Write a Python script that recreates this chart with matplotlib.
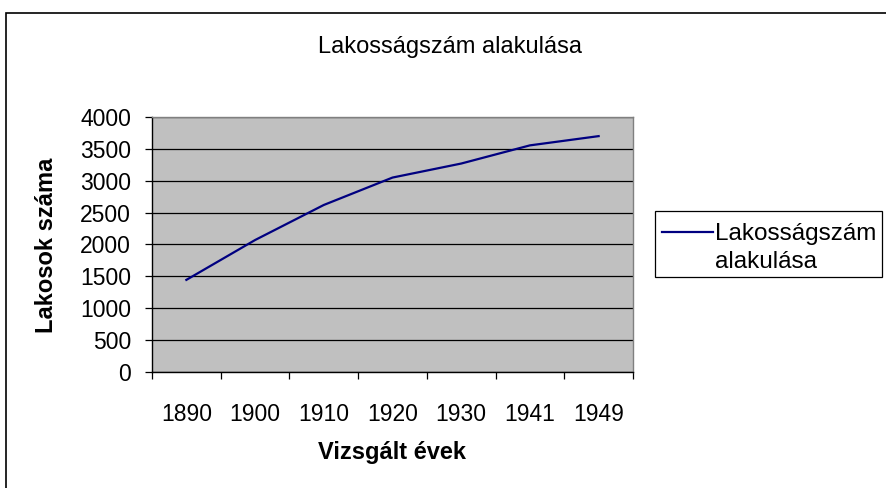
import matplotlib
matplotlib.use("Agg")
import matplotlib.pyplot as plt
from matplotlib.patches import Rectangle
from matplotlib.lines import Line2D

plt.rcParams['font.family'] = ['Liberation Sans', 'DejaVu Sans']

years = ['1890', '1900', '1910', '1920', '1930', '1941', '1949']
population = [1445, 2070, 2620, 3050, 3270, 3555, 3700]
series_name = 'Lakosságszám\nalakulása'

W, H = 887, 488
fig = plt.figure(figsize=(W / 100, H / 100), dpi=100)

# outer chart frame (cut off right and bottom like the original)
fig.patches.append(Rectangle((6 / W, -0.1), 1.1, (H - 13) / H + 0.1,
                             transform=fig.transFigure, fill=False,
                             edgecolor='black', linewidth=1.2))

ax = fig.add_axes([152 / W, (H - 372) / H, (633 - 152) / W, (372 - 117) / H])
ax.set_facecolor('#c0c0c0')

x = list(range(len(years)))
line, = ax.plot(x, population, color='#000080', linewidth=1.6)

ax.set_xlim(-0.5, len(years) - 0.5)
ax.set_ylim(0, 4000)
ax.set_yticks(range(0, 4001, 500))
ax.yaxis.grid(True, color='black', linewidth=0.9)
ax.set_axisbelow(True)

ax.set_xticks(x)
ax.set_xticklabels(years)
ax.set_xticks([i - 0.5 for i in range(len(years) + 1)], minor=True)
ax.tick_params(axis='x', which='major', length=0, pad=22, labelsize=16.5)
ax.tick_params(axis='x', which='minor', length=5, width=0.9, direction='out')
ax.tick_params(axis='y', length=5, width=0.9, pad=10, labelsize=16.5)

for side in ['top', 'right']:
    ax.spines[side].set_color('#808080')
    ax.spines[side].set_linewidth(1)
for side in ['left', 'bottom']:
    ax.spines[side].set_color('black')
    ax.spines[side].set_linewidth(1)

fig.text(450 / W, 1 - 47 / H, 'Lakosságszám alakulása', ha='center', va='center', fontsize=17)
fig.text(392 / W, 1 - 452 / H, 'Vizsgált évek', ha='center', va='center',
         fontsize=17, fontweight='bold')
fig.text(47 / W, 1 - 245 / H, 'Lakosok száma', ha='center', va='center',
         fontsize=17, fontweight='bold', rotation=90)

# legend, Excel style: key line level with the first text line
fig.patches.append(Rectangle((655 / W, 1 - 277 / H), (882 - 655) / W, 66 / H,
                             transform=fig.transFigure, fill=False,
                             edgecolor='black', linewidth=0.9))
fig.lines.append(Line2D([662 / W, 713 / W], [1 - 232 / H, 1 - 232 / H],
                        transform=fig.transFigure, color=line.get_color(),
                        linewidth=line.get_linewidth()))
fig.text(715 / W, 1 - 248 / H, series_name, ha='left', va='center',
         fontsize=17.5, linespacing=1.4)

fig.savefig('out.png', dpi=100)
